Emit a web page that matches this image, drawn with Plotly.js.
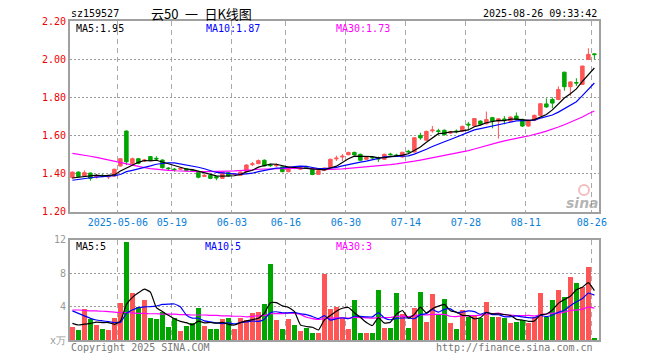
<!DOCTYPE html>
<html><head><meta charset="utf-8">
<script src="https://cdn.plot.ly/plotly-3.0.1.min.js"></script>
<style>html,body{margin:0;padding:0;background:#fff;}#chart{width:660px;height:360px;}</style>
</head><body><div id="chart"></div>
<script>
// ---- data (88 trading days, 2025-04-21 .. 2025-08-26) ----
const openP = [1.380,1.409,1.388,1.404,1.383,1.392,1.383,1.388,1.441,1.624,
 1.453,1.479,1.467,1.490,1.481,1.472,1.430,1.424,1.424,1.427,
 1.420,1.408,1.386,1.392,1.385,1.376,1.405,1.395,1.392,1.412,
 1.448,1.453,1.471,1.446,1.442,1.436,1.411,1.432,1.424,1.436,
 1.426,1.397,1.418,1.432,1.478,1.488,1.500,1.512,1.502,1.476,
 1.487,1.481,1.476,1.503,1.498,1.488,1.518,1.514,1.601,1.576,
 1.625,1.625,1.628,1.613,1.624,1.624,1.660,1.650,1.676,1.662,
 1.694,1.676,1.687,1.676,1.702,1.685,1.650,1.680,1.706,1.766,
 1.789,1.789,1.932,1.856,1.878,1.868,1.999,2.028];
const closeP = [1.409,1.385,1.406,1.376,1.390,1.389,1.390,1.424,1.479,1.463,
 1.479,1.455,1.472,1.470,1.478,1.432,1.427,1.421,1.428,1.417,
 1.416,1.382,1.392,1.376,1.378,1.409,1.388,1.398,1.409,1.446,
 1.452,1.469,1.441,1.443,1.445,1.411,1.436,1.429,1.428,1.433,
 1.396,1.416,1.430,1.476,1.482,1.492,1.512,1.499,1.471,1.485,
 1.484,1.478,1.502,1.500,1.495,1.513,1.515,1.589,1.588,1.622,
 1.629,1.622,1.605,1.618,1.621,1.648,1.656,1.689,1.659,1.684,
 1.676,1.688,1.684,1.697,1.685,1.650,1.680,1.706,1.767,1.750,
 1.770,1.841,1.856,1.881,1.875,1.964,2.025,2.024];
const highP = [1.412,1.412,1.418,1.406,1.398,1.398,1.395,1.426,1.482,1.626,
 1.485,1.482,1.478,1.492,1.492,1.476,1.435,1.430,1.435,1.430,
 1.423,1.410,1.400,1.395,1.388,1.412,1.408,1.402,1.412,1.450,
 1.462,1.475,1.475,1.452,1.455,1.439,1.439,1.438,1.432,1.442,
 1.429,1.419,1.433,1.479,1.495,1.503,1.515,1.516,1.505,1.488,
 1.493,1.490,1.505,1.510,1.505,1.514,1.525,1.592,1.615,1.626,
 1.650,1.636,1.632,1.625,1.632,1.652,1.672,1.692,1.680,1.726,
 1.698,1.690,1.702,1.700,1.721,1.688,1.684,1.710,1.770,1.795,
 1.800,1.858,1.934,1.885,1.900,1.966,2.057,2.030];
const lowP = [1.372,1.382,1.385,1.364,1.375,1.382,1.372,1.386,1.438,1.445,
 1.445,1.450,1.462,1.467,1.470,1.428,1.418,1.412,1.420,1.414,
 1.410,1.376,1.384,1.372,1.366,1.373,1.385,1.390,1.389,1.409,
 1.440,1.450,1.438,1.436,1.436,1.408,1.408,1.424,1.420,1.428,
 1.393,1.394,1.415,1.430,1.467,1.467,1.497,1.497,1.468,1.472,
 1.476,1.462,1.474,1.495,1.488,1.485,1.505,1.512,1.578,1.572,
 1.615,1.605,1.600,1.608,1.612,1.620,1.630,1.648,1.655,1.658,
 1.638,1.584,1.659,1.672,1.682,1.645,1.646,1.676,1.704,1.745,
 1.743,1.785,1.835,1.808,1.860,1.865,1.995,1.999];
// volume, 万
const volume = [1.56,1.2,3.7,2.5,1.76,1.3,1.2,2.6,4.4,11.8,
 5.6,3.9,4.8,2.6,2.5,3.3,1.6,2.7,1.1,1.7,
 2.0,3.8,1.7,1.3,1.3,2.5,2.6,1.3,2.7,2.4,
 3.2,3.4,4.3,9.1,2.4,1.3,2.5,1.8,1.1,1.4,
 0.85,0.85,7.9,3.7,4.0,2.6,1.3,4.8,0.9,0.9,
 0.8,6.0,1.5,1.5,5.6,3.1,1.4,3.8,5.8,2.2,
 5.5,3.0,4.9,2.0,1.3,3.6,2.8,3.0,2.6,4.5,
 2.8,2.8,2.6,2.0,2.2,2.4,2.0,2.8,5.6,2.8,
 4.8,6.0,5.1,7.5,6.8,6.3,8.7,0.3];
// leading moving-average values (window starts before the visible range)
const ma5Lead = [1.378,1.382,1.386,1.389];
const ma10Lead = [1.366,1.371,1.376,1.380,1.383,1.385,1.387,1.390,1.396];
const ma30Lead = [1.507,1.503,1.498,1.492,1.486,1.479,1.472,1.465,1.458,1.454,
 1.446,1.439,1.432,1.427,1.423,1.420,1.418,1.416,1.414,1.413,
 1.412,1.411,1.411,1.411,1.412,1.413,1.414,1.415,1.416];
const vma5Lead = [2.0,1.8,1.9,2.0];
const vma10Lead = [3.5,3.2,2.9,2.6,2.4,2.3,2.2,2.1,2.1];
const vma30Lead = [3.6,3.6,3.55,3.5,3.5,3.45,3.4,3.35,3.3,3.3,
 3.25,3.2,3.2,3.15,3.15,3.1,3.1,3.1,3.05,3.05,
 3.0,3.0,3.0,2.95,2.95,2.9,2.9,2.85,2.85];
const tickIdx = [8,17,27,36,46,56,66,76,87];
const tickText = ['2025-05-06','05-19','06-03','06-16','06-30','07-14','07-28','08-11','08-26'];
const priceTicks = [1.2,1.4,1.6,1.8,2.0,2.2];
const priceTickText = ['1.20','1.40','1.60','1.80','2.00','2.20'];
const volTicks = [0,4,8,12];
const volTickText = ['x万','4','8','12'];

function movingAvg(arr, n, lead){
  return arr.map((v,i)=> i < n-1 ? lead[i] : arr.slice(i-n+1,i+1).reduce((a,b)=>a+b,0)/n);
}
const idx = openP.map((_,i)=>i);
const UP = '#ff5555', DOWN = '#00a500';
const volColors = closeP.map((c,i)=> c >= openP[i] ? UP : DOWN);
const MONO = 'DejaVu Sans Mono, monospace';

const traces = [
 {type:'candlestick', x:idx, open:openP, high:highP, low:lowP, close:closeP,
  xaxis:'x', yaxis:'y', whiskerwidth:0, hoverinfo:'none',
  increasing:{line:{color:UP,width:1}, fillcolor:UP},
  decreasing:{line:{color:DOWN,width:1}, fillcolor:DOWN}},
 {type:'scatter', mode:'lines', x:idx, y:movingAvg(closeP,30,ma30Lead), xaxis:'x', yaxis:'y', line:{color:'#ff00ff',width:1.2}, hoverinfo:'none'},
 {type:'scatter', mode:'lines', x:idx, y:movingAvg(closeP,10,ma10Lead), xaxis:'x', yaxis:'y', line:{color:'#0000ff',width:1.2}, hoverinfo:'none'},
 {type:'scatter', mode:'lines', x:idx, y:movingAvg(closeP,5,ma5Lead), xaxis:'x', yaxis:'y', line:{color:'#000000',width:1.2}, hoverinfo:'none'},
 {type:'bar', x:idx, y:volume, xaxis:'x2', yaxis:'y2', width:0.82, marker:{color:volColors, line:{width:0}}, hoverinfo:'none'},
 {type:'scatter', mode:'lines', x:idx, y:movingAvg(volume,30,vma30Lead), xaxis:'x2', yaxis:'y2', line:{color:'#ff00ff',width:1.2,shape:'spline',smoothing:0.4}, hoverinfo:'none'},
 {type:'scatter', mode:'lines', x:idx, y:movingAvg(volume,10,vma10Lead), xaxis:'x2', yaxis:'y2', line:{color:'#0000ff',width:1.2,shape:'spline',smoothing:0.4}, hoverinfo:'none'},
 {type:'scatter', mode:'lines', x:idx, y:movingAvg(volume,5,vma5Lead), xaxis:'x2', yaxis:'y2', line:{color:'#000000',width:1.2,shape:'spline',smoothing:0.4}, hoverinfo:'none'}
];

// pixel -> paper helpers (plot area x 70..599, y 21..340)
const PX = px => (px-70)/529;
const PY = py => (340-py)/319;
function txt(text, px, py, anchor, color, size, family, extra){
  return Object.assign({text:text, xref:'paper', yref:'paper', x:PX(px), y:PY(py), xanchor:anchor, yanchor:'middle',
    showarrow:false, font:{family:family||MONO, size:size||10, color:color||'#000'}}, extra||{});
}
const gridTicks = tickIdx.map(i=>i-0.42);
const frame = {showline:true, mirror:true, linecolor:'#a0a0a0', linewidth:2, zeroline:false, fixedrange:true};

const layout = {
  width:660, height:360, margin:{l:70, r:61, t:21, b:20},
  paper_bgcolor:'#fff', plot_bgcolor:'#fff', showlegend:false, boxgap:0.17, bargap:0,
  xaxis: Object.assign({anchor:'y', range:[-0.4,87.77], tickmode:'array', tickvals:gridTicks, ticktext:tickText,
    ticks:'', showgrid:true, gridcolor:'#aaaaaa', gridwidth:1, griddash:'5px,4px',
    tickfont:{family:MONO, size:10, color:'#0a80d8'}, rangeslider:{visible:false}}, frame),
  yaxis: Object.assign({domain:[0.4013,1], range:[1.2,2.2], tickmode:'array', tickvals:priceTicks, ticktext:priceTickText,
    ticks:'', showgrid:true, gridcolor:'#9a9a9a', gridwidth:1, griddash:'2px,2px',
    tickfont:{family:MONO, size:10, color:'#ee0000'}}, frame),
  xaxis2: Object.assign({anchor:'y2', matches:'x', range:[-0.4,87.77], tickmode:'array', tickvals:gridTicks, showticklabels:false,
    ticks:'', showgrid:true, gridcolor:'#aaaaaa', gridwidth:1, griddash:'5px,4px'}, frame),
  yaxis2: Object.assign({domain:[0,0.3135], range:[0,12], tickmode:'array', tickvals:volTicks, ticktext:volTickText,
    ticks:'', showgrid:true, gridcolor:'#9a9a9a', gridwidth:1, griddash:'2px,2px',
    tickfont:{family:MONO, size:10, color:'#999999'}}, frame),
  annotations:[
    txt('sz159527', 69, 13, 'left', '#000'),
    txt('云50\u2002一\u2002日K线图', 149, 13, 'left', '#000', 13, 'Noto Sans CJK SC'),
    txt('2025-08-26 09:33:42', 599, 13, 'right', '#000'),
    txt('MA5:1.95', 74, 28, 'left', '#000'),
    txt('MA10:1.87', 204, 28, 'left', '#0000ff'),
    txt('MA30:1.73', 334, 28, 'left', '#ff00ff'),
    txt('MA5:5', 74, 247, 'left', '#000'),
    txt('MA10:5', 203, 247, 'left', '#0000ff'),
    txt('MA30:3', 334, 247, 'left', '#ff00ff'),
    txt('Copyright 2025 SINA.COM', 69, 347, 'left', '#777777'),
    txt('http://finance.sina.com.cn', 595, 347, 'right', '#777777'),
    txt('sina', 582, 203, 'center', 'rgba(130,130,130,0.6)', 14, 'DejaVu Sans', {font:{family:'DejaVu Sans', size:14, color:'rgba(130,130,130,0.6)', style:'italic', weight:'bold'}})
  ],
  shapes:[
    {type:'circle', xref:'paper', yref:'paper', x0:PX(579), x1:PX(589), y0:PY(195), y1:PY(185),
     line:{color:'rgba(230,110,110,0.45)', width:2}, fillcolor:'rgba(0,0,0,0)'}
  ]
};
Plotly.newPlot('chart', traces, layout, {staticPlot:true, displayModeBar:false});
</script></body></html>
